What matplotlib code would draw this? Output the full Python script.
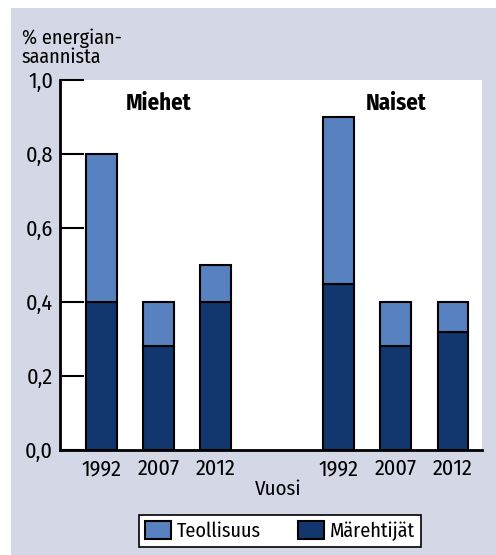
import matplotlib
matplotlib.use("Agg")
import matplotlib.pyplot as plt
from matplotlib.patches import Rectangle, Patch

plt.rcParams["font.family"] = ["Fira Sans Condensed", "Roboto Condensed", "PT Sans Narrow",
                               "Barlow Semi Condensed", "DejaVu Sans"]

groups = ["Miehet", "Naiset"]
years = ["1992", "2007", "2012", "1992", "2007", "2012"]
x_pos = [0, 1, 2, 4.16, 5.16, 6.16]
marehtijat = [0.40, 0.28, 0.40, 0.45, 0.28, 0.32]
teollisuus = [0.40, 0.12, 0.10, 0.45, 0.12, 0.08]
y_ticks = [0.0, 0.2, 0.4, 0.6, 0.8, 1.0]
y_labels = ["0,0", "0,2", "0,4", "0,6", "0,8", "1,0"]

light = "#5781bf"
dark = "#12376e"
panel = "#d4d7e6"

fig = plt.figure(figsize=(4.96, 5.55), dpi=100)
fig.patch.set_facecolor("white")
fig.patches.append(Rectangle((11 / 496, 0), 1, (555 - 8) / 555,
                             transform=fig.transFigure, facecolor=panel,
                             edgecolor="none", zorder=-10))

ax = fig.add_axes([60 / 496, 105 / 555, 422 / 496, 370 / 555])
ax.set_facecolor("white")

ax.bar(x_pos, marehtijat, width=0.54, color=dark, edgecolor="black", linewidth=1.5)
ax.bar(x_pos, teollisuus, width=0.54, bottom=marehtijat, color=light,
       edgecolor="black", linewidth=1.5)

ax.set_xlim(-0.728, 6.67)
ax.set_ylim(0, 1.0)
ax.set_yticks(y_ticks)
ax.set_yticklabels(y_labels, fontsize=16)
ax.set_xticks(x_pos)
ax.set_xticklabels(years, fontsize=16)
ax.tick_params(axis="y", direction="in", length=17, width=1.5, pad=5)
ax.tick_params(axis="x", length=0, pad=6)
for s in ["top", "right"]:
    ax.spines[s].set_visible(False)
for s in ["left", "bottom"]:
    ax.spines[s].set_linewidth(2)

ax.set_xlabel("Vuosi", fontsize=15, labelpad=0)
ax.xaxis.set_label_coords((278 - 60) / 422, -0.08)

ax.text(1, 0.938, groups[0], ha="center", va="center", fontsize=16.5, fontweight="bold")
ax.text(5.16, 0.938, groups[1], ha="center", va="center", fontsize=16.5, fontweight="bold")

fig.text(22 / 496, 1 - 29 / 555, "% energian-\nsaannista", ha="left", va="top",
         fontsize=14.5, linespacing=0.95)

handles = [Patch(facecolor=light, edgecolor="black", linewidth=1.5),
           Patch(facecolor=dark, edgecolor="black", linewidth=1.5)]
leg = fig.legend(handles, ["Teollisuus", "Märehtijät"], loc="center",
                 bbox_to_anchor=(280 / 496, 24 / 555), ncol=2, fontsize=14.5,
                 frameon=True, fancybox=False, framealpha=1, edgecolor="black",
                 handlelength=1.3, handleheight=1.0, handletextpad=0.3,
                 columnspacing=1.8, borderpad=0.3)
leg.get_frame().set_linewidth(1.2)

fig.savefig("out.png", dpi=100)
